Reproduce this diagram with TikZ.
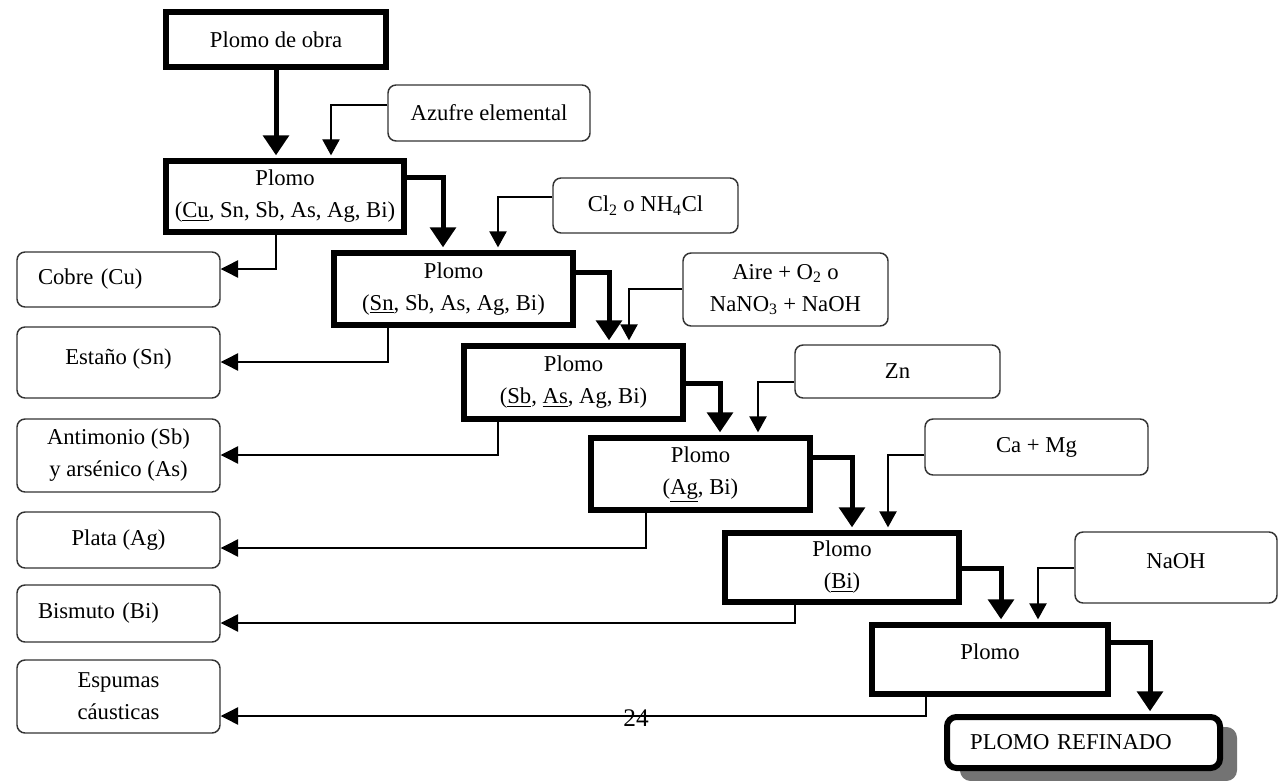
\documentclass[tikz,border=0pt]{standalone}
\usepackage{fontspec}
\setmainfont{Liberation Serif}
\usetikzlibrary{arrows.meta}

\newcommand{\upx}{0.75pt}

\tikzset{
  mainbox/.style={draw, fill=white, line width=4.5pt, align=center, inner sep=0pt},
  sidebox/.style={draw=black!80, fill=white, line width=1.1pt, rounded corners=6pt, align=center, inner sep=0pt},
  leftbox/.style={sidebox, align=left, inner xsep=15.75pt, text width=120.75pt},
  dims/.style 2 args={minimum width=#1*\upx, minimum height=#2*\upx},
  mainflow/.style={line width=3.75pt, -{Triangle[width=19pt,length=15pt]}, shorten >=2pt},
  inflow/.style={line width=1pt, -{Triangle[width=13pt,length=12pt]}, shorten >=2pt},
  outflow/.style={line width=1pt, -{Triangle[width=13pt,length=13pt]}}
}

\begin{document}
\begin{tikzpicture}[x=0.75pt,y=0.75pt,yscale=-1,xscale=1,font=\fontsize{17}{24}\selectfont]
\useasboundingbox (0,0) rectangle (1278,781);

% main line
\node[mainbox, dims={220}{55}] (obra) at (276,39.5) {Plomo de obra};
\node[mainbox, dims={238}{71}] (p1) at (285,196.5) {Plomo\\(\underline{Cu}, Sn, Sb, As, Ag, Bi)};
\node[mainbox, dims={239}{72}] (p2) at (453.5,289) {Plomo\\(\underline{Sn}, Sb, As, Ag, Bi)};
\node[mainbox, dims={219}{73}] (p3) at (573.5,382.5) {Plomo\\(\underline{Sb}, \underline{As}, Ag, Bi)};
\node[mainbox, dims={219}{72}] (p4) at (700.5,474) {Plomo\\(\underline{Ag}, Bi)};
\node[mainbox, dims={234}{69}] (p5) at (842,567.5) {Plomo\\(\underline{Bi})};
\node[mainbox, dims={236}{69}, text depth=12pt] (p6) at (990,659.5) {Plomo};

% refined lead, with its shadow
\fill[black!55, rounded corners=8pt] (960,727) rectangle (1237,781);
\node[mainbox, rounded corners=7pt, dims={273}{51}, align=left, inner xsep=17.25pt, text width=170pt] (refin) at (1083.5,742.5) {PLOMO REFINADO};

% reagents
\node[sidebox, dims={202}{56}] (azufre) at (489,113) {Azufre elemental};
\node[sidebox, dims={185}{55}] (cloro) at (645.5,205.5) {Cl\textsubscript{2} o NH\textsubscript{4}Cl};
\node[sidebox, dims={205}{73}] (aire) at (785.5,289.5) {Aire + O\textsubscript{2} o\\NaNO\textsubscript{3} + NaOH};
\node[sidebox, dims={205}{53}] (zinc) at (897.5,371.5) {Zn};
\node[sidebox, dims={223}{56}] (camg) at (1036.5,447) {Ca + Mg};
\node[sidebox, dims={202}{71}, text depth=10.5pt] (sosa) at (1176,567.5) {NaOH};

% products
\node[leftbox, dims={203}{55}] (cobre) at (118.5,279.5) {Cobre (Cu)};
\node[sidebox, dims={203}{71}, text depth=9.5pt] (estano) at (118.5,362.5) {Estaño (Sn)};
\node[sidebox, dims={203}{73}] (antim) at (118.5,455.5) {Antimonio (Sb)\\y arsénico (As)};
\node[sidebox, dims={203}{56}] (plata) at (118.5,540) {Plata (Ag)};
\node[leftbox, dims={203}{57}] (bismuto) at (118.5,613.5) {Bismuto (Bi)};
\node[sidebox, dims={203}{73}] (espumas) at (118.5,696.5) {Espumas\\cáusticas};

% bends
\coordinate (m1) at (443,178);
\coordinate (m2) at (609,272);
\coordinate (m3) at (720,383);
\coordinate (m4) at (852,457);
\coordinate (m5) at (1001,568);
\coordinate (m6) at (1150,642);
\coordinate (a1) at (331,105);
\coordinate (a2) at (498,197);
\coordinate (a3) at (629,289);
\coordinate (a4) at (758,382);
\coordinate (a5) at (888,455);
\coordinate (a6) at (1038,568);
\coordinate (o1) at (276,269);
\coordinate (o2) at (388,362);
\coordinate (o3) at (498,455);
\coordinate (o4) at (646,548);
\coordinate (o5) at (795,623);
\coordinate (o6) at (926,716);

% lead flow
\draw[mainflow] (obra) -- (obra |- p1.north);
\draw[mainflow] (p1.east |- m1) -- (m1) -- (m1 |- p2.north);
\draw[mainflow] (p2.east |- m2) -- (m2) -- (m2 |- p3.north);
\draw[mainflow] (p3.east |- m3) -- (m3) -- (m3 |- p4.north);
\draw[mainflow] (p4.east |- m4) -- (m4) -- (m4 |- p5.north);
\draw[mainflow] (p5.east |- m5) -- (m5) -- (m5 |- p6.north);
\draw[mainflow] (p6.east |- m6) -- (m6) -- (m6 |- refin.north);

% reagents in
\draw[inflow] (azufre.west |- a1) -- (a1) -- (a1 |- p1.north);
\draw[inflow] (cloro.west |- a2) -- (a2) -- (a2 |- p2.north);
\draw[inflow] (aire.west |- a3) -- (a3) -- (a3 |- p3.north);
\draw[inflow] (zinc.west |- a4) -- (a4) -- (a4 |- p4.north);
\draw[inflow] (camg.west |- a5) -- (a5) -- (a5 |- p5.north);
\draw[inflow] (sosa.west |- a6) -- (a6) -- (a6 |- p6.north);

% products out
\draw[outflow] (o1 |- p1.south) -- (o1) -- (o1 -| cobre.east);
\draw[outflow] (o2 |- p2.south) -- (o2) -- (o2 -| estano.east);
\draw[outflow] (o3 |- p3.south) -- (o3) -- (o3 -| antim.east);
\draw[outflow] (o4 |- p4.south) -- (o4) -- (o4 -| plata.east);
\draw[outflow] (o5 |- p5.south) -- (o5) -- (o5 -| bismuto.east);
\draw[outflow] (o6 |- p6.south) -- (o6) -- (o6 -| espumas.east);

% Text Node
\node[font=\fontsize{19}{22}\selectfont, inner sep=0pt] (pagina) at (636,718) {24};

\end{tikzpicture}
\end{document}
